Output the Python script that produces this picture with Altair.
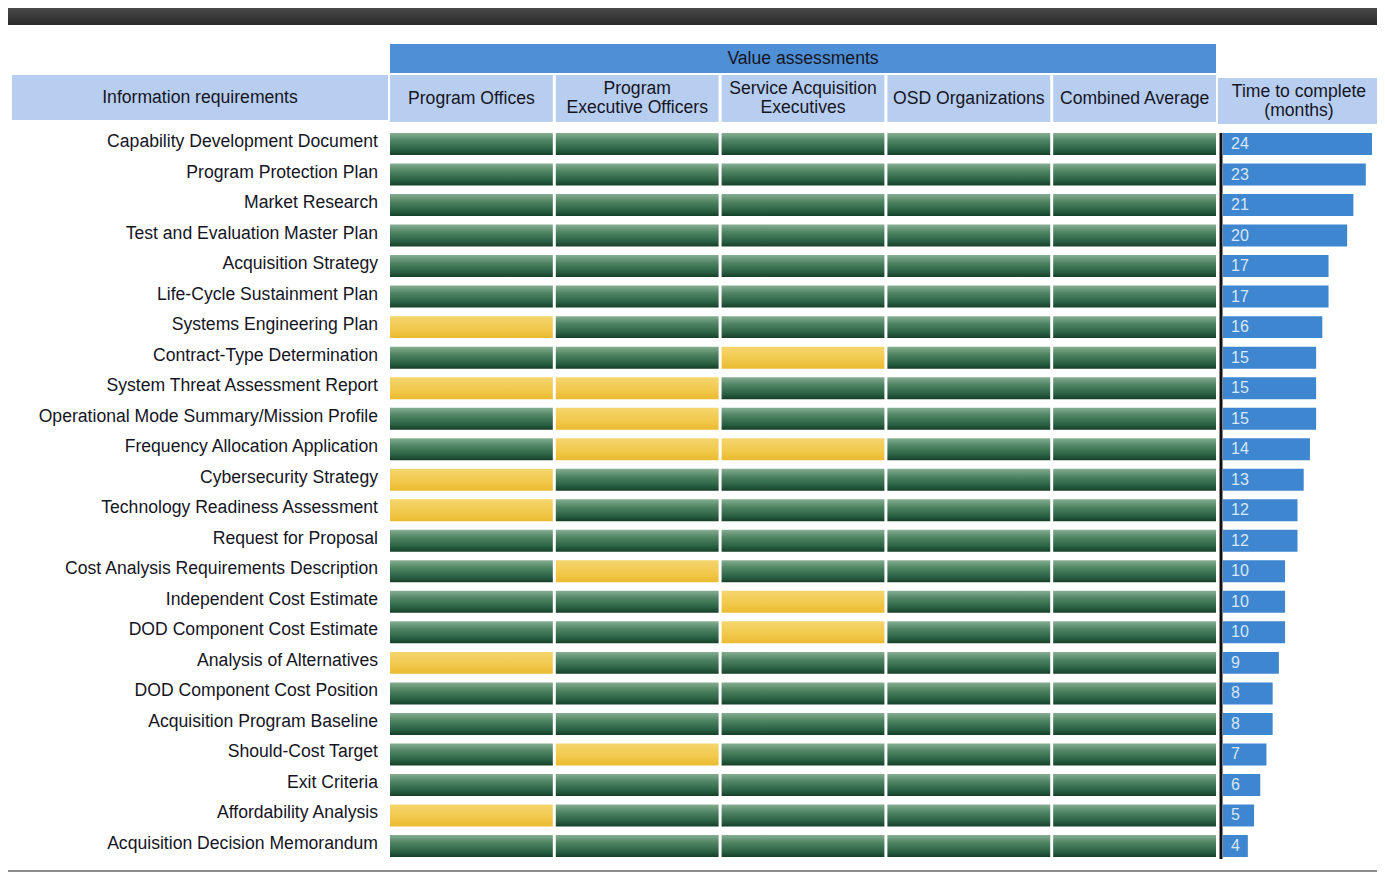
import altair as alt
import pandas as pd

# ---------------- data ----------------
requirements = [
    "Capability Development Document",
    "Program Protection Plan",
    "Market Research",
    "Test and Evaluation Master Plan",
    "Acquisition Strategy",
    "Life-Cycle Sustainment Plan",
    "Systems Engineering Plan",
    "Contract-Type Determination",
    "System Threat Assessment Report",
    "Operational Mode Summary/Mission Profile",
    "Frequency Allocation Application",
    "Cybersecurity Strategy",
    "Technology Readiness Assessment",
    "Request for Proposal",
    "Cost Analysis Requirements Description",
    "Independent Cost Estimate",
    "DOD Component Cost Estimate",
    "Analysis of Alternatives",
    "DOD Component Cost Position",
    "Acquisition Program Baseline",
    "Should-Cost Target",
    "Exit Criteria",
    "Affordability Analysis",
    "Acquisition Decision Memorandum",
]

months = [24, 23, 21, 20, 17, 17, 16, 15, 15, 15, 14, 13,
          12, 12, 10, 10, 10, 9, 8, 8, 7, 6, 5, 4]

assess_columns = [
    "Program Offices",
    "Program\nExecutive Officers",
    "Service Acquisition\nExecutives",
    "OSD Organizations",
    "Combined Average",
]

# G = green, Y = yellow
program_offices = ["G", "G", "G", "G", "G", "G", "Y", "G", "Y", "G", "G", "Y",
                   "Y", "G", "G", "G", "G", "Y", "G", "G", "G", "G", "Y", "G"]
program_exec_officers = ["G", "G", "G", "G", "G", "G", "G", "G", "Y", "Y", "Y", "G",
                         "G", "G", "Y", "G", "G", "G", "G", "G", "Y", "G", "G", "G"]
service_acq_execs = ["G", "G", "G", "G", "G", "G", "G", "Y", "G", "G", "Y", "G",
                     "G", "G", "G", "Y", "Y", "G", "G", "G", "G", "G", "G", "G"]
osd_organizations = ["G"] * 24
combined_average = ["G"] * 24

title_band = "Value assessments"
left_header = "Information requirements"
right_header = "Time to complete\n(months)"

# ---------------- tables ----------------
ratings_lists = [program_offices, program_exec_officers, service_acq_execs,
                 osd_organizations, combined_average]
cells = pd.DataFrame(
    [{"requirement": r, "column": c, "rating": lst[i]}
     for c, lst in zip(assess_columns, ratings_lists)
     for i, r in enumerate(requirements)]
)
rows_df = pd.DataFrame({"requirement": requirements, "months": months})
cols_df = pd.DataFrame({"column": assess_columns})
one = pd.DataFrame({"k": [0]})

# ---------------- styling ----------------
H = 864
FONT = "Liberation Sans"
FS = 17.6
TXT = "#15151f"
HEADER_BLUE = "#b8cef1"
BAND_BLUE = "#4f8fd6"
BAR_BLUE = "#3e86d0"

green_grad = alt.LinearGradient(
    gradient="linear", x1=0, x2=0, y1=0, y2=1,
    stops=[alt.GradientStop(color="#86ae92", offset=0),
           alt.GradientStop(color="#4f8563", offset=0.35),
           alt.GradientStop(color="#2b6244", offset=0.75),
           alt.GradientStop(color="#153f28", offset=1)],
)
yellow_grad = alt.LinearGradient(
    gradient="linear", x1=0, x2=0, y1=0, y2=1,
    stops=[alt.GradientStop(color="#f4d56e", offset=0),
           alt.GradientStop(color="#f1c84a", offset=0.6),
           alt.GradientStop(color="#ebba30", offset=1)],
)
dark_grad = alt.LinearGradient(
    gradient="linear", x1=0, x2=0, y1=0, y2=1,
    stops=[alt.GradientStop(color="#4a4a4a", offset=0),
           alt.GradientStop(color="#2a2a2a", offset=1)],
)

yscale = alt.Scale(type="band", domain=requirements, range=[125, 849],
                   paddingInner=0.28, paddingOuter=0)
xcols = alt.Scale(type="band", domain=assess_columns, range=[1, 827],
                  paddingInner=0.018, paddingOuter=0)


def deco(width):
    top = alt.Chart(one).mark_rect(color=dark_grad).encode(
        x=alt.value(0), x2=alt.value(width), y=alt.value(0), y2=alt.value(17))
    bottom = alt.Chart(one).mark_rect(color="#8d8d8d").encode(
        x=alt.value(0), x2=alt.value(width), y=alt.value(862), y2=alt.value(864))
    return [top, bottom]


# ---------------- panel A: labels ----------------
WA = 381
a_header = alt.Chart(one).mark_rect(color=HEADER_BLUE).encode(
    x=alt.value(4), x2=alt.value(380), y=alt.value(67), y2=alt.value(112))
a_header_txt = alt.Chart(one).mark_text(
    font=FONT, fontSize=FS, color=TXT, align="center", baseline="middle"
).encode(x=alt.value(192), y=alt.value(90), text=alt.value(left_header))
a_labels = alt.Chart(rows_df).mark_text(
    font=FONT, fontSize=FS, color=TXT, align="right", baseline="middle", dy=-2
).encode(
    x=alt.value(370),
    y=alt.Y("requirement:N", scale=yscale, axis=None),
    text="requirement:N",
)
panel_a = alt.layer(*deco(WA), a_header, a_header_txt, a_labels).properties(
    width=WA, height=H)

# ---------------- panel B: assessment grid ----------------
WB = 828
b_band = alt.Chart(one).mark_rect(color=BAND_BLUE).encode(
    x=alt.value(1), x2=alt.value(827), y=alt.value(36), y2=alt.value(65))
b_band_txt = alt.Chart(one).mark_text(
    font=FONT, fontSize=FS, color=TXT, align="center", baseline="middle"
).encode(x=alt.value(414), y=alt.value(51), text=alt.value(title_band))
b_heads = alt.Chart(cols_df).mark_rect(color=HEADER_BLUE).encode(
    x=alt.X("column:N", scale=xcols, axis=None),
    y=alt.value(67), y2=alt.value(114))
b_heads_one = alt.Chart(cols_df).transform_filter(
    "indexof(datum.column, '\\n') < 0"
).mark_text(
    font=FONT, fontSize=FS, color=TXT, align="center", baseline="middle",
).encode(
    x=alt.X("column:N", scale=xcols, axis=None),
    y=alt.value(91),
    text="column:N",
)
b_heads_two = alt.Chart(cols_df).transform_filter(
    "indexof(datum.column, '\\n') >= 0"
).mark_text(
    font=FONT, fontSize=FS, color=TXT, align="center", baseline="middle",
    lineBreak="\n", lineHeight=19,
).encode(
    x=alt.X("column:N", scale=xcols, axis=None),
    y=alt.value(81),
    text="column:N",
)
b_green = alt.Chart(cells).transform_filter(alt.datum.rating == "G").mark_rect(
    color=green_grad).encode(
    x=alt.X("column:N", scale=xcols, axis=None),
    y=alt.Y("requirement:N", scale=yscale, axis=None),
)
b_yellow = alt.Chart(cells).transform_filter(alt.datum.rating == "Y").mark_rect(
    color=yellow_grad).encode(
    x=alt.X("column:N", scale=xcols, axis=None),
    y=alt.Y("requirement:N", scale=yscale, axis=None),
)
panel_b = alt.layer(*deco(WB), b_band, b_band_txt, b_heads, b_heads_one,
                    b_heads_two, b_green, b_yellow).properties(width=WB, height=H)

# ---------------- panel C: time bars ----------------
WC = 160
xmonths = alt.Scale(domain=[0, 24], range=[6, 155], zero=True, nice=False)
c_header = alt.Chart(one).mark_rect(color=HEADER_BLUE).encode(
    x=alt.value(1), x2=alt.value(160), y=alt.value(70), y2=alt.value(116))
c_header_txt = alt.Chart(one).mark_text(
    font=FONT, fontSize=FS, color=TXT, align="center", baseline="middle",
    lineBreak="\n", lineHeight=19,
).encode(x=alt.value(82), y=alt.value(84), text=alt.value(right_header))
c_bars = alt.Chart(rows_df).mark_bar(color=BAR_BLUE).encode(
    x=alt.X("months:Q", scale=xmonths, axis=None),
    y=alt.Y("requirement:N", scale=yscale, axis=None),
)
c_labels = alt.Chart(rows_df).mark_text(
    font=FONT, fontSize=16, color="#d9e6f5", align="left", baseline="middle",
).encode(
    x=alt.value(14),
    y=alt.Y("requirement:N", scale=yscale, axis=None),
    text="months:Q",
)
c_axis = alt.Chart(one).mark_rule(color="#111111", strokeWidth=3).encode(
    x=alt.value(4), y=alt.value(125), y2=alt.value(851))
panel_c = alt.layer(*deco(WC), c_header, c_header_txt, c_bars, c_labels,
                    c_axis).properties(width=WC, height=H)

chart = alt.hconcat(panel_a, panel_b, panel_c, spacing=0).properties(
    padding=0, background="white"
).configure_view(stroke=None)

chart.save("out.html", embed_options={"renderer": "svg", "actions": False})
